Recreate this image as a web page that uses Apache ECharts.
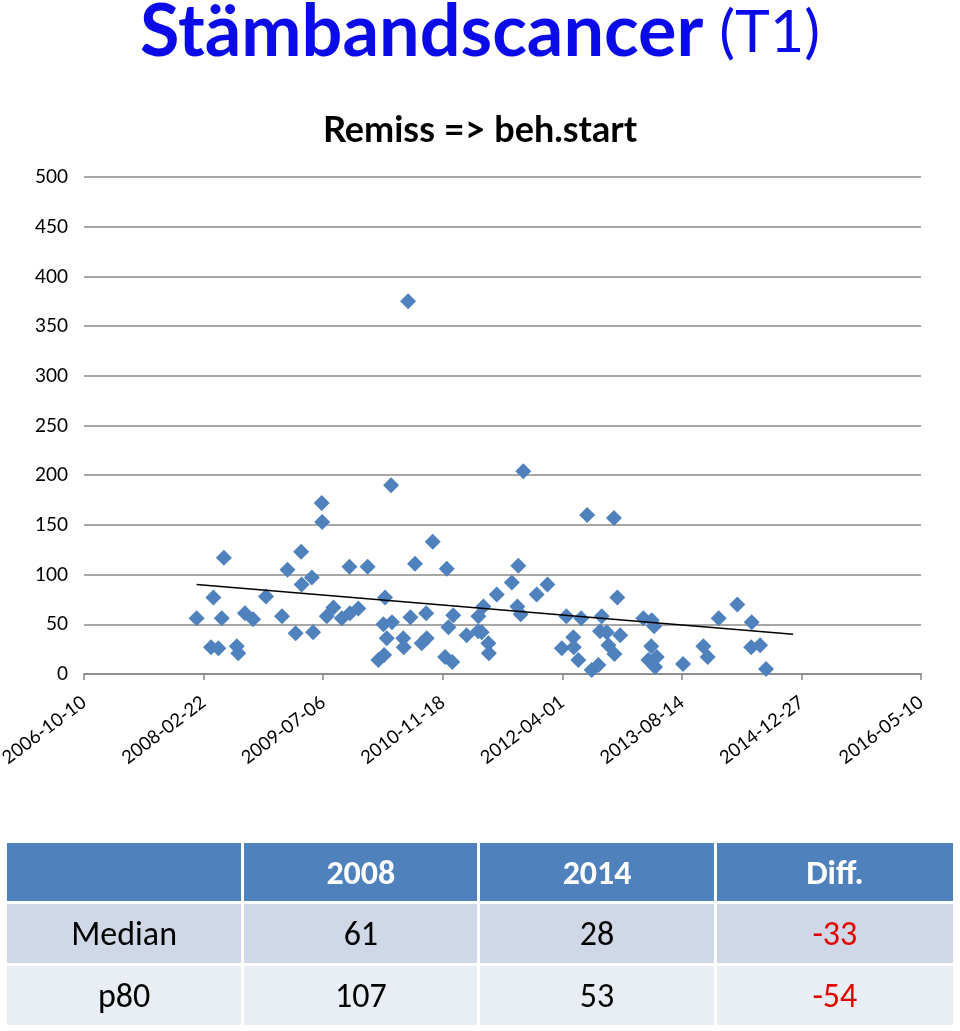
<!DOCTYPE html>
<html>
<head>
<meta charset="utf-8">
<script src="https://cdn.jsdelivr.net/npm/echarts@6/dist/echarts.min.js"></script>
<style>
  html, body { margin: 0; padding: 0; background: #fff; }
  #chart { position: absolute; left: 0; top: 0; width: 960px; height: 1031px; }
  #tbl { position: absolute; left: 4px; top: 840px; width: 952px; border-collapse: separate; border-spacing: 3px; table-layout: fixed;
         font-family: Carlito, Lato, "Liberation Sans", sans-serif; font-size: 34px; }
  #tbl td { text-align: center; padding: 0; }
  #tbl tr.h td { background: #4f81bd; color: #fff; font-weight: bold; height: 58px; }
  #tbl tr.r1 td { background: #d0d8e8; color: #000; height: 59px; }
  #tbl tr.r2 td { background: #e9edf4; color: #000; height: 59px; }
  #tbl tr td.neg { color: #e00000 !important; }
</style>
</head>
<body>
<div id="chart"></div>
<table id="tbl"></table>
<script>
// Excel serial dates (days since 1899-12-30) for each case, and waiting days
const dates = [39471,39531,39541,39562,39576,39585,39639,39645,39673,39707,
  39761,39828,39851,39885,39910,39908,39953,39958,39994,39996,
  40015,40043,40078,40112,40147,40110,40186,40231,40255,40259,
  40252,40288,40266,40284,40335,40337,40355,40365,40384,40412,
  40433,40431,40458,40517,40544,40524,40510,40540,40600,40649,
  40670,40648,40663,40691,40693,40726,40789,40816,40812,40826,
  40837,40893,40938,40998,41017,41046,41048,41067,41079,41104,
  41123,41151,41158,41186,41165,41193,41218,41216,41230,41242,
  41339,41374,41384,41372,41360,41395,41388,41505,41590,41608,
  41654,41732,41792,41790,41827,41852];
const days = [56,27,77,26,56,117,28,21,61,55,
  78,58,105,41,90,123,97,42,172,153,
  58,67,56,61,66,108,108,14,19,77,
  50,52,36,190,36,27,375,57,111,31,
  36,61,133,106,59,47,17,12,39,58,
  68,43,42,31,21,80,92,109,68,60,
  204,80,90,26,58,37,27,14,56,160,
  4,9,43,42,58,29,20,157,77,39,
  56,54,48,28,14,17,7,10,28,17,
  56,70,52,27,29,5];
// Linear trendline end points
const trendDates = [39471, 41965];
const trendDays = [90, 40];

const titleMain = 'Stämbandscancer';
const titleSuffix = '(T1)';
const subtitle = 'Remiss => beh.start';

const tableHeader = ['', '2008', '2014', 'Diff.'];
const rowLabels = ['Median', 'p80'];
const v2008 = [61, 107];
const v2014 = [28, 53];
const vDiff = [-33, -54];

function serialToStr(s) {
  const d = new Date(Date.UTC(1899, 11, 30) + s * 86400000);
  const p = n => (n < 10 ? '0' : '') + n;
  return d.getUTCFullYear() + '-' + p(d.getUTCMonth() + 1) + '-' + p(d.getUTCDate());
}

const FONT = 'Lato';
const chart = echarts.init(document.getElementById('chart'), null, { renderer: 'canvas' });
chart.setOption({
  animation: false,
  backgroundColor: '#fff',
  textStyle: { fontFamily: FONT, fontSize: 19, color: '#000' },
  title: [{
    text: '{a|' + titleMain + '}{s|}{b|' + titleSuffix + '}',
    left: 'center', top: -8,
    textStyle: { rich: {
      a: { fontFamily: FONT, fontSize: 72, fontWeight: 'bold', color: '#0b0bea' },
      s: { width: 16 },
      b: { fontFamily: FONT, fontSize: 59, fontWeight: 'normal', color: '#0b0bea' }
    } }
  }, {
    text: subtitle, left: 'center', top: 107,
    textStyle: { fontFamily: FONT, fontSize: 36, fontWeight: 'bold', color: '#000' }
  }],
  grid: { left: 84, right: 39, top: 177, bottom: 357, containLabel: false, outerBoundsMode: 'none' },
  xAxis: {
    type: 'value', min: 39000, max: 42500, interval: 500,
    axisLine: { show: true, lineStyle: { color: '#868686', width: 1.5 } },
    axisTick: { show: true, length: 6, lineStyle: { color: '#868686', width: 1.5 } },
    splitLine: { show: false },
    axisLabel: { show: true, rotate: 37, margin: 26, fontFamily: FONT, fontSize: 18.5, color: '#000',
      formatter: v => serialToStr(v) }
  },
  yAxis: {
    type: 'value', min: 0, max: 500, interval: 50,
    axisLine: { show: false }, axisTick: { show: false },
    splitLine: { show: true, lineStyle: { color: '#8a8a8a', width: 1.5 } },
    axisLabel: { show: true, margin: 16, fontFamily: FONT, fontSize: 19, color: '#000' }
  },
  series: [{
    type: 'scatter', symbol: 'diamond', symbolSize: 16,
    itemStyle: { color: '#4f81bd', opacity: 1 },
    data: dates.map((d, i) => [d, days[i]]),
    z: 3
  }, {
    type: 'line', symbol: 'none',
    lineStyle: { color: '#000', width: 1.5 },
    data: trendDates.map((d, i) => [d, trendDays[i]]),
    z: 4
  }]
});

// Summary table
const tbl = document.getElementById('tbl');
let html = '<colgroup><col style="width:234px"><col style="width:233px"><col style="width:233px"><col style="width:236px"></colgroup>';
html += '<tr class="h">' + tableHeader.map(h => '<td>' + h + '</td>').join('') + '</tr>';
rowLabels.forEach((lab, i) => {
  html += '<tr class="r' + (i + 1) + '"><td>' + lab + '</td><td>' + v2008[i] + '</td><td>' + v2014[i] +
    '</td><td class="neg">' + vDiff[i] + '</td></tr>';
});
tbl.innerHTML = html;
</script>
</body>
</html>
